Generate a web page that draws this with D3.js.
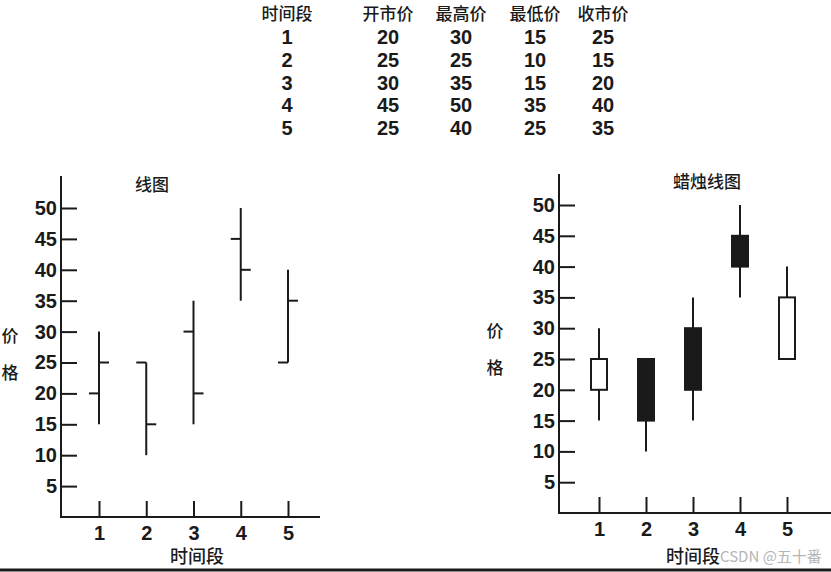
<!DOCTYPE html>
<html>
<head>
<meta charset="utf-8">
<script src="https://cdn.jsdelivr.net/npm/d3@7"></script>
<style>
  html, body { margin: 0; padding: 0; background: #fff; }
  svg { display: block; }
  text { fill: #1a1a1a; }
</style>
</head>
<body>
<svg id="chart" width="831" height="572"></svg>
<script>
const periods = [1, 2, 3, 4, 5];
const openPrices = [20, 25, 30, 45, 25];
const highPrices = [30, 25, 35, 50, 40];
const lowPrices = [15, 10, 15, 35, 25];
const closePrices = [25, 15, 20, 40, 35];
const tableHeaders = ["时间段", "开市价", "最高价", "最低价", "收市价"];
const yTicks = [5, 10, 15, 20, 25, 30, 35, 40, 45, 50];

const ink = "#1a1a1a";
const cjk = "'Noto Sans CJK SC', sans-serif";
const latin = "'Liberation Sans', Arial, sans-serif";

const svg = d3.select("#chart");

// table at the top
const rows = periods.map((p, i) => [p, openPrices[i], highPrices[i], lowPrices[i], closePrices[i]]);
const colX = d3.scaleOrdinal().domain(d3.range(5)).range([287, 388, 461, 535, 603]);
const rowY = d3.scaleLinear().domain([0, 5]).range([14, 128]);

const table = svg.append("g");
table.selectAll("text.head")
  .data(tableHeaders)
  .join("text")
  .attr("class", "head")
  .attr("x", (d, i) => colX(i))
  .attr("y", rowY(0))
  .attr("dy", "0.36em")
  .attr("text-anchor", "middle")
  .style("font-family", cjk)
  .style("font-size", "17px")
  .style("font-weight", 500)
  .text(d => d);

table.selectAll("g.row")
  .data(rows)
  .join("g")
  .attr("class", "row")
  .attr("transform", (d, i) => `translate(0,${rowY(i + 1)})`)
  .selectAll("text")
  .data(d => d)
  .join("text")
  .attr("x", (d, i) => colX(i))
  .attr("dy", "0.36em")
  .attr("text-anchor", "middle")
  .style("font-family", latin)
  .style("font-size", "20px")
  .style("font-weight", "bold")
  .text(d => d);

function drawFrame(o) {
  const g = svg.append("g");
  const x = d3.scaleLinear().domain([1, 5]).range([o.x1, o.x5]);
  const y = d3.scaleLinear().domain([0, 50]).range([o.base, o.y50]);

  // y axis, ticks pointing inward
  const yAxis = g.append("g")
    .attr("transform", `translate(${o.left},0)`)
    .call(d3.axisLeft(y).tickValues(yTicks).tickSizeInner(-16).tickSizeOuter(0).tickPadding(4));
  yAxis.select(".domain").remove();
  yAxis.selectAll(".tick line").attr("stroke", ink).attr("stroke-width", 2);
  yAxis.selectAll(".tick text")
    .attr("fill", ink)
    .style("font-family", latin)
    .style("font-size", "20px")
    .style("font-weight", "bold");

  // x axis, ticks pointing up
  const xAxis = g.append("g")
    .attr("transform", `translate(0,${o.base})`)
    .call(d3.axisBottom(x).tickValues(periods).tickFormat(d3.format("d"))
      .tickSizeInner(-16).tickSizeOuter(0).tickPadding(9));
  xAxis.select(".domain").remove();
  xAxis.selectAll(".tick line").attr("stroke", ink).attr("stroke-width", 2);
  xAxis.selectAll(".tick text")
    .attr("fill", ink)
    .style("font-family", latin)
    .style("font-size", "20px")
    .style("font-weight", "bold");

  g.append("line")
    .attr("x1", o.left).attr("x2", o.left)
    .attr("y1", o.top).attr("y2", o.base + 1)
    .attr("stroke", ink).attr("stroke-width", 2);
  g.append("line")
    .attr("x1", o.left - 1).attr("x2", o.right)
    .attr("y1", o.base).attr("y2", o.base)
    .attr("stroke", ink).attr("stroke-width", 2);

  g.append("text")
    .attr("x", o.titleX).attr("y", o.titleY)
    .attr("dy", "0.36em")
    .attr("text-anchor", "middle")
    .style("font-family", cjk).style("font-size", "17px").style("font-weight", 500)
    .text(o.title);

  g.selectAll("text.ylab")
    .data(["价", "格"])
    .join("text")
    .attr("class", "ylab")
    .attr("x", o.ylabX)
    .attr("y", (d, i) => o.ylabY + i * 37)
    .attr("dy", "0.36em")
    .attr("text-anchor", "middle")
    .style("font-family", cjk).style("font-size", "17px").style("font-weight", 500)
    .text(d => d);

  g.append("text")
    .attr("x", o.xlabX).attr("y", o.xlabY)
    .attr("dy", "0.36em")
    .attr("text-anchor", "middle")
    .style("font-family", cjk).style("font-size", "18px").style("font-weight", 500)
    .text("时间段");

  return { g, x, y };
}

// left: bar (OHLC) chart
const left = drawFrame({
  left: 61, right: 320, top: 176, base: 517, y50: 208,
  x1: 99, x5: 288, title: "线图", titleX: 152, titleY: 185,
  ylabX: 10, ylabY: 336, xlabX: 197, xlabY: 557
});
const bars = left.g.append("g").selectAll("g")
  .data(periods)
  .join("g");
bars.append("line")
  .attr("x1", d => left.x(d)).attr("x2", d => left.x(d))
  .attr("y1", (d, i) => left.y(highPrices[i])).attr("y2", (d, i) => left.y(lowPrices[i]))
  .attr("stroke", ink).attr("stroke-width", 2);
bars.append("line")
  .attr("x1", d => left.x(d) - 10).attr("x2", d => left.x(d))
  .attr("y1", (d, i) => left.y(openPrices[i])).attr("y2", (d, i) => left.y(openPrices[i]))
  .attr("stroke", ink).attr("stroke-width", 2);
bars.append("line")
  .attr("x1", d => left.x(d)).attr("x2", d => left.x(d) + 10)
  .attr("y1", (d, i) => left.y(closePrices[i])).attr("y2", (d, i) => left.y(closePrices[i]))
  .attr("stroke", ink).attr("stroke-width", 2);

// right: candlestick chart
const right = drawFrame({
  left: 559, right: 831, top: 174, base: 513, y50: 205,
  x1: 599, x5: 787, title: "蜡烛线图", titleX: 707, titleY: 182,
  ylabX: 495, ylabY: 331, xlabX: 693, xlabY: 557
});
const bodyW = 16;
const candles = right.g.append("g").selectAll("g")
  .data(periods)
  .join("g");
candles.append("line")
  .attr("x1", d => right.x(d)).attr("x2", d => right.x(d))
  .attr("y1", (d, i) => right.y(highPrices[i])).attr("y2", (d, i) => right.y(lowPrices[i]))
  .attr("stroke", ink).attr("stroke-width", 2);
candles.append("rect")
  .attr("x", d => right.x(d) - bodyW / 2)
  .attr("width", bodyW)
  .attr("y", (d, i) => right.y(Math.max(openPrices[i], closePrices[i])))
  .attr("height", (d, i) => right.y(Math.min(openPrices[i], closePrices[i])) - right.y(Math.max(openPrices[i], closePrices[i])))
  .attr("fill", (d, i) => closePrices[i] > openPrices[i] ? "#fff" : ink)
  .attr("stroke", ink).attr("stroke-width", 2);

// watermark and bottom rule
svg.append("text")
  .attr("x", 720).attr("y", 557)
  .attr("dy", "0.36em")
  .style("font-family", cjk).style("font-size", "15px")
  .style("fill", "#b5b5b5")
  .text("CSDN @五十番");
svg.append("line")
  .attr("x1", 0).attr("x2", 831)
  .attr("y1", 570).attr("y2", 570)
  .attr("stroke", ink).attr("stroke-width", 3);
</script>
</body>
</html>
